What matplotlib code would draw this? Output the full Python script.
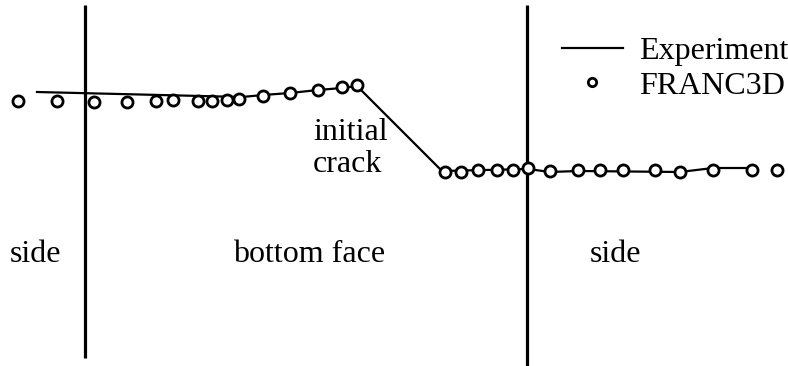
import matplotlib
matplotlib.use("Agg")
import matplotlib.pyplot as plt

plt.rcParams['font.family'] = ['Liberation Serif', 'DejaVu Serif']

# position along the crack front and crack extension (arbitrary units)
exp_x = [37, 242, 263, 290, 318, 342, 357, 442, 528, 550, 578, 680, 713, 752]
exp_y = [274, 269, 271, 273, 276, 278, 280, 195, 197, 194, 195, 194, 198, 198]

franc_x = [18, 57, 94, 127, 156, 173, 198, 212, 227, 239, 263, 290, 318, 342, 357,
           445, 461, 478, 497, 513, 528, 550, 578, 600, 623, 655, 680, 713, 752, 777]
franc_y = [265, 265, 264, 264, 265, 266, 265, 265, 266, 267, 270, 273, 276, 279, 281,
           194, 194, 196, 196, 196, 198, 195, 196, 196, 196, 196, 194, 196, 196, 196]

# corners between the side faces and the bottom face
corners = [85, 527]
corner_top = [361, 361]
corner_bot = [8, 0]

region_labels = ['side', 'bottom face', 'side']
region_x = [10, 233, 590]

fig = plt.figure(figsize=(7.88, 3.66), dpi=100)
ax = fig.add_axes([0, 0, 1, 1])
ax.set_xlim(0, 788)
ax.set_ylim(0, 366)
ax.axis('off')

for cx, top, bot in zip(corners, corner_top, corner_bot):
    ax.plot([cx, cx], [bot, top], color='black', lw=2.3, solid_capstyle='butt')

ax.plot(exp_x, exp_y, color='black', lw=1.6, label='Experiment')
ax.plot(franc_x, franc_y, ls='none', marker='o', ms=8, mfc='white',
        mec='black', mew=2.0, label='FRANC3D')

for lab, lx in zip(region_labels, region_x):
    ax.text(lx, 104, lab, fontsize=23, ha='left', va='baseline')
ax.text(313, 226, 'initial', fontsize=23, ha='left', va='baseline')
ax.text(313, 194, 'crack', fontsize=23, ha='left', va='baseline')

leg = ax.legend(loc='upper right', bbox_to_anchor=(1.0, 1 - 37 / 366),
                frameon=False, fontsize=23, handlelength=1.9, handletextpad=0.5,
                labelspacing=0.15, borderpad=0, borderaxespad=0, markerscale=0.75)

fig.savefig('out.png', dpi=100)
